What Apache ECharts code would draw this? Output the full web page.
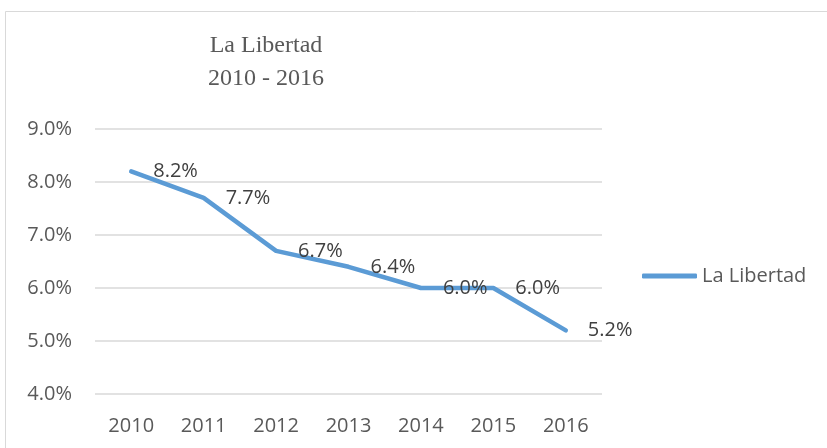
<!DOCTYPE html>
<html>
<head>
<meta charset="utf-8">
<script src="https://cdn.jsdelivr.net/npm/echarts@6/dist/echarts.min.js"></script>
<style>
  html, body { margin: 0; padding: 0; background: #fff; }
  #chart { width: 827px; height: 448px; }
</style>
</head>
<body>
<div id="chart"></div>
<script>
// data
const years = ['2010', '2011', '2012', '2013', '2014', '2015', '2016']
const rates = [8.2, 7.7, 6.7, 6.4, 6.0, 6.0, 5.2]
const seriesName = 'La Libertad'
const titleLines = ['La Libertad', '2010 - 2016']

const sansFont = '"Open Sans", "Noto Sans", sans-serif'
const serifFont = '"Liberation Serif", "DejaVu Serif", serif'

const chart = echarts.init(document.getElementById('chart'))
chart.setOption({
  backgroundColor: '#fff',
  animation: false,
  title: [{
    text: titleLines[0],
    left: 266,
    top: 34,
    padding: 0,
    textAlign: 'center',
    textStyle: { fontFamily: serifFont, fontSize: 24, fontWeight: 'normal', color: '#595959' }
  }, {
    text: titleLines[1],
    left: 266,
    top: 67,
    padding: 0,
    textAlign: 'center',
    textStyle: { fontFamily: serifFont, fontSize: 24, fontWeight: 'normal', color: '#595959' }
  }],
  graphic: [{
    // chart area frame
    type: 'rect',
    silent: true,
    shape: { x: 5.5, y: 11.5, width: 1000, height: 1000 },
    style: { fill: 'none', stroke: '#d9d9d9', lineWidth: 1 }
  }],
  legend: {
    data: [seriesName],
    left: 642,
    top: 266,
    padding: 0,
    icon: 'roundRect',
    itemWidth: 55,
    itemHeight: 5,
    textStyle: { fontFamily: sansFont, fontSize: 20, color: '#595959' }
  },
  grid: {
    left: 95,
    right: 225,
    top: 129,
    bottom: 54
  },
  xAxis: {
    type: 'category',
    data: years,
    boundaryGap: true,
    axisLine: { show: false },
    axisTick: { show: false },
    axisLabel: { margin: 22, fontFamily: sansFont, fontSize: 20, color: '#595959' }
  },
  yAxis: {
    type: 'value',
    min: 4,
    max: 9,
    interval: 1,
    axisLine: { show: false },
    axisTick: { show: false },
    splitLine: { lineStyle: { color: '#d9d9d9', width: 1.5 } },
    axisLabel: {
      margin: 23,
      fontFamily: sansFont,
      fontSize: 20,
      color: '#595959',
      formatter: function(v) {
        return v.toFixed(1) + '%'
      }
    }
  },
  series: [{
    name: seriesName,
    type: 'line',
    data: rates,
    symbol: 'circle',
    symbolSize: 0,
    color: '#5b9bd5',
    lineStyle: { width: 4.5, cap: 'round', join: 'round' },
    label: {
      show: true,
      position: 'right',
      distance: 22,
      fontFamily: sansFont,
      fontSize: 20,
      color: '#404040',
      formatter: function(p) {
        return p.value.toFixed(1) + '%'
      }
    }
  }]
})
</script>
</body>
</html>
